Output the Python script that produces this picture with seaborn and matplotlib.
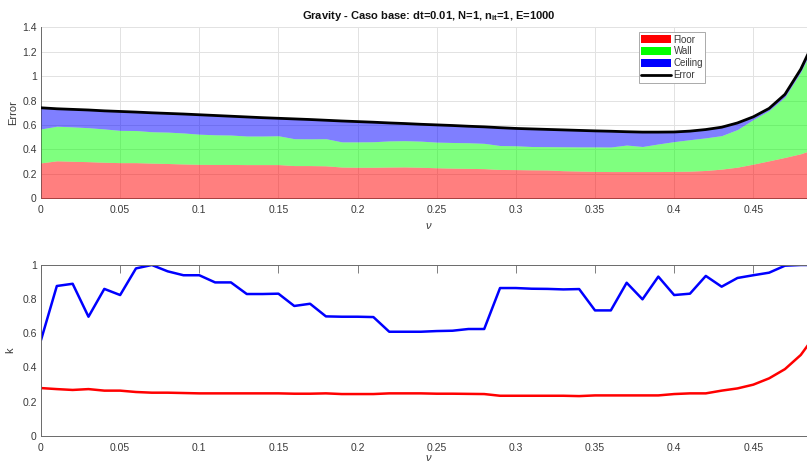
import numpy as np
import pandas as pd
import matplotlib
matplotlib.use("Agg")
import matplotlib.pyplot as plt
import seaborn as sns
from matplotlib.patches import Patch
from matplotlib.lines import Line2D

# ---------------- data ----------------
nu = [round(0.01 * i, 2) for i in range(50)]

floor_err = [0.290, 0.307, 0.303, 0.300, 0.295, 0.292, 0.292, 0.288, 0.285, 0.281,
             0.278, 0.277, 0.277, 0.276, 0.276, 0.276, 0.268, 0.268, 0.266, 0.256,
             0.254, 0.254, 0.256, 0.257, 0.254, 0.250, 0.247, 0.245, 0.243, 0.236,
             0.235, 0.233, 0.232, 0.226, 0.223, 0.220, 0.219, 0.219, 0.219, 0.219,
             0.220, 0.222, 0.228, 0.239, 0.255, 0.280, 0.307, 0.335, 0.365, 0.410]
wall_err = [0.278, 0.283, 0.282, 0.278, 0.273, 0.264, 0.263, 0.257, 0.257, 0.254,
            0.247, 0.243, 0.241, 0.234, 0.234, 0.236, 0.220, 0.219, 0.222, 0.206,
            0.208, 0.209, 0.214, 0.215, 0.214, 0.210, 0.210, 0.210, 0.207, 0.196,
            0.195, 0.191, 0.191, 0.196, 0.198, 0.201, 0.201, 0.217, 0.205, 0.226,
            0.244, 0.258, 0.267, 0.274, 0.308, 0.365, 0.412, 0.494, 0.670, 0.890]
ceiling_err = [0.173, 0.143, 0.143, 0.145, 0.148, 0.155, 0.151, 0.155, 0.153, 0.155,
               0.159, 0.158, 0.154, 0.156, 0.150, 0.143, 0.162, 0.158, 0.151, 0.171,
               0.166, 0.160, 0.147, 0.140, 0.138, 0.141, 0.139, 0.135, 0.135, 0.146,
               0.142, 0.144, 0.141, 0.138, 0.135, 0.131, 0.129, 0.109, 0.118, 0.097,
               0.079, 0.070, 0.068, 0.069, 0.054, 0.022, 0.017, 0.022, 0.022, 0.030]

k_floor = [0.279, 0.273, 0.268, 0.273, 0.264, 0.264, 0.256, 0.252, 0.252, 0.250,
           0.248, 0.248, 0.248, 0.248, 0.248, 0.248, 0.246, 0.246, 0.248, 0.244,
           0.244, 0.244, 0.248, 0.248, 0.248, 0.246, 0.246, 0.245, 0.244, 0.234,
           0.234, 0.234, 0.234, 0.234, 0.232, 0.236, 0.236, 0.236, 0.236, 0.236,
           0.244, 0.248, 0.248, 0.264, 0.277, 0.299, 0.336, 0.390, 0.473, 0.600]
k_ceiling = [0.560, 0.877, 0.890, 0.697, 0.860, 0.824, 0.980, 1.000, 0.963, 0.940,
             0.940, 0.898, 0.898, 0.830, 0.830, 0.832, 0.760, 0.773, 0.699, 0.697,
             0.697, 0.695, 0.609, 0.609, 0.609, 0.613, 0.615, 0.625, 0.625, 0.865,
             0.865, 0.861, 0.860, 0.857, 0.859, 0.734, 0.734, 0.896, 0.799, 0.932,
             0.824, 0.832, 0.936, 0.873, 0.924, 0.940, 0.955, 0.996, 1.000, 1.000]

series_names = ["Floor", "Wall", "Ceiling", "Error"]
series_colors = ["#ff0000", "#00ff00", "#0000ff", "#000000"]
x_ticklabels = ["0", "0.05", "0.1", "0.15", "0.2", "0.25", "0.3", "0.35", "0.4", "0.45"]

df = pd.DataFrame({"nu": nu, "Floor": floor_err, "Wall": wall_err,
                   "Ceiling": ceiling_err, "kf": k_floor, "kc": k_ceiling})
df["Error"] = df["Floor"] + df["Wall"] + df["Ceiling"]

# ---------------- style ----------------
sns.set_theme(style="white")
plt.rcParams["font.family"] = ["Liberation Sans", "DejaVu Sans"]
plt.rcParams["mathtext.fontset"] = "custom"
plt.rcParams["mathtext.rm"] = "Liberation Sans"
plt.rcParams["mathtext.it"] = "Liberation Sans:italic"
plt.rcParams["mathtext.bf"] = "Liberation Sans:bold"

spine_c = "#6a6a6a"
text_c = "#3a3a3a"

fig = plt.figure(figsize=(8.07, 4.65), dpi=100)
W = 775.6 / 807
ax1 = fig.add_axes([41 / 807, 1 - 198.3 / 465, W, 171 / 465])
ax2 = fig.add_axes([41 / 807, 1 - 435.7 / 465, W, 170.7 / 465])

# ---- top: stacked areas ----
x = df["nu"].values
base = np.zeros(len(df))
for name, col in zip(series_names[:3], series_colors[:3]):
    top = base + df[name].values
    ax1.fill_between(x, base, top, color=col, alpha=0.5, lw=0, zorder=2)
    base = top
sns.lineplot(data=df, x="nu", y="Error", ax=ax1, color="black", lw=2.0, zorder=3)

ax1.set_xlim(0, 0.49)
ax1.set_ylim(0, 1.4)
ax1.set_xticks(np.arange(0, 0.451, 0.05))
ax1.set_xticklabels(x_ticklabels)
ax1.set_yticks(np.arange(0, 1.41, 0.2))
ax1.set_yticklabels(["0", "0.2", "0.4", "0.6", "0.8", "1", "1.2", "1.4"])
ax1.grid(True, color="#e2e2e2", lw=0.7, zorder=0)
ax1.set_axisbelow(True)
for s in ["top", "right"]:
    ax1.spines[s].set_visible(False)
for s in ["left", "bottom"]:
    ax1.spines[s].set_color(spine_c)
    ax1.spines[s].set_linewidth(0.7)
    ax1.spines[s].set_zorder(1)
ax1.tick_params(direction="in", length=5.5, width=0.6, color=spine_c,
                labelsize=7.5, labelcolor=text_c)
ax1.tick_params(axis="x", pad=5)
ax1.tick_params(axis="y", pad=3)
ax1.set_xlabel(r"$\nu$", fontsize=8, color=text_c, labelpad=4)
ax1.set_ylabel("Error", fontsize=8, color=text_c, labelpad=3)
ax1.set_title(r"Gravity - Caso base: dt=0.01, N=1, n$_\mathbf{it}$=1, E=1000",
              fontsize=8, fontweight="bold", color="#111111", pad=6)

handles = [Patch(facecolor=c, edgecolor="none") for c in series_colors[:3]]
handles.append(Line2D([0], [0], color="black", lw=2))
leg = ax1.legend(handles, series_names, loc="upper left",
                 bbox_to_anchor=(0.771, 0.972), fontsize=7, frameon=True,
                 fancybox=False, edgecolor="#aaaaaa", framealpha=1,
                 handlelength=3.0, handleheight=0.8, labelspacing=0.2,
                 handletextpad=0.3, borderpad=0.25, borderaxespad=0)
leg.get_frame().set_linewidth(0.7)
for t in leg.get_texts():
    t.set_color(text_c)

# ---- bottom: k lines ----
sns.lineplot(data=df, x="nu", y="kf", ax=ax2, color="#ff0000", lw=1.8)
sns.lineplot(data=df, x="nu", y="kc", ax=ax2, color="#0000ff", lw=1.8)
ax2.set_xlim(0, 0.49)
ax2.set_ylim(0, 1)
ax2.set_xticks(np.arange(0, 0.451, 0.05))
ax2.set_xticklabels(x_ticklabels)
ax2.set_yticks(np.arange(0, 1.01, 0.2))
ax2.set_yticklabels(["0", "0.2", "0.4", "0.6", "0.8", "1"])
ax2.spines["right"].set_visible(False)
for s in ["left", "bottom", "top"]:
    ax2.spines[s].set_color(spine_c)
    ax2.spines[s].set_linewidth(0.7)
ax2.tick_params(direction="in", length=5.5, width=0.6, color=spine_c,
                labelsize=7.5, labelcolor=text_c, top=True)
ax2.tick_params(axis="x", pad=5)
ax2.tick_params(axis="y", pad=3)
ax2.set_xlabel(r"$\nu$", fontsize=8, color=text_c, labelpad=0.5)
ax2.set_ylabel("k", fontsize=8, color=text_c, labelpad=5)

fig.savefig("out.png", dpi=100)
